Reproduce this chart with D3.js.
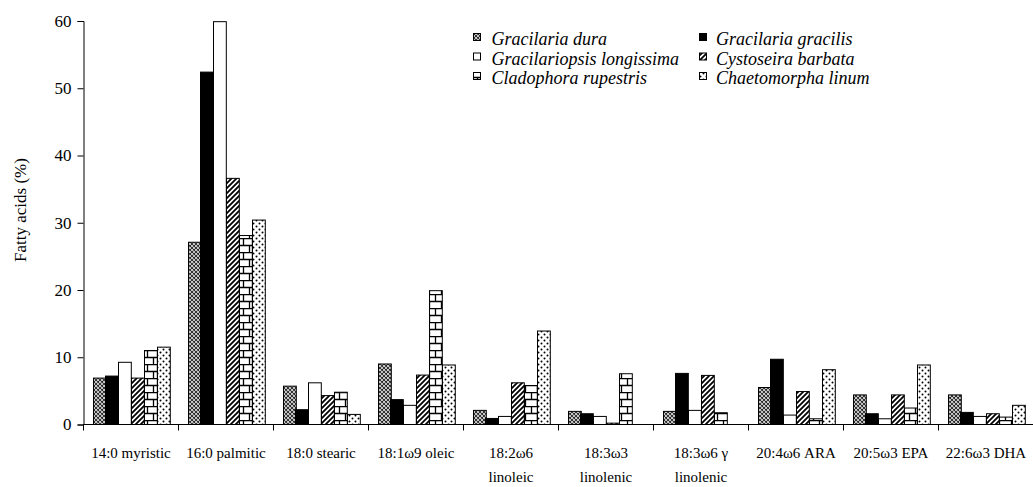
<!DOCTYPE html>
<html>
<head>
<meta charset="utf-8">
<script src="https://cdn.jsdelivr.net/npm/d3@7"></script>
<style>
  body { margin: 0; background: #fff; }
  svg { display: block; }
  text { font-family: "Liberation Serif", "Times New Roman", serif; fill: #000; }
</style>
</head>
<body>
<svg id="chart" width="1033" height="487"></svg>
<script>
// ---- data ----
const categories = [
  ["14:0 myristic"], ["16:0 palmitic"], ["18:0 stearic"], ["18:1\u03c99 oleic"],
  ["18:2\u03c96", "linoleic"], ["18:3\u03c93", "linolenic"], ["18:3\u03c96 \u03b3", "linolenic"],
  ["20:4\u03c96 ARA"], ["20:5\u03c93 EPA"], ["22:6\u03c93 DHA"]
];
const seriesNames = ["Gracilaria dura", "Gracilaria gracilis", "Gracilariopsis longissima",
  "Cystoseira barbata", "Cladophora rupestris", "Chaetomorpha linum"];
const gracilariaDura       = [6.9, 27.1, 5.7, 9.0, 2.1, 1.95, 1.95, 5.5, 4.4, 4.4];
const gracilariaGracilis   = [7.2, 52.4, 2.2, 3.7, 0.9, 1.6, 7.6, 9.7, 1.6, 1.8];
const gracilariopsisLong   = [9.25, 59.9, 6.2, 2.85, 1.2, 1.2, 2.1, 1.4, 0.85, 1.2];
const cystoseiraBarbata    = [6.9, 36.6, 4.3, 7.35, 6.2, 0.2, 7.3, 4.9, 4.4, 1.6];
const cladophoraRupestris  = [11.0, 28.1, 4.8, 19.9, 5.8, 7.55, 1.75, 0.85, 2.45, 1.1];
const chaetomorphaLinum    = [11.5, 30.4, 1.5, 8.85, 13.9, 0, 0, 8.15, 8.85, 2.85];
const yTicks = [0, 10, 20, 30, 40, 50, 60];
const seriesValues = [gracilariaDura, gracilariaGracilis, gracilariopsisLong,
  cystoseiraBarbata, cladophoraRupestris, chaetomorphaLinum];

// ---- layout ----
const svg = d3.select("#chart");
const x0 = 83.5, x1 = 1033.5, yBase = 424.5, yTop = 21;
const catKeys = categories.map((c, i) => i);
const x = d3.scaleBand().domain(catKeys).range([x0, x1]).paddingInner(0).paddingOuter(0);
const xs = d3.scaleBand().domain(d3.range(6)).range([0, x.bandwidth()]).paddingInner(0).paddingOuter(0.71);
const y = d3.scaleLinear().domain([0, 60]).range([yBase, yTop]);

// ---- patterns ----
const defs = svg.append("defs");
function pat(id, w, h, draw) {
  const p = defs.append("pattern").attr("id", id).attr("patternUnits", "userSpaceOnUse")
    .attr("width", w).attr("height", h);
  p.append("rect").attr("width", w).attr("height", h).attr("fill", "#fff");
  draw(p);
}
pat("p0", 4, 4, p => {
  p.append("path").attr("d", "M-1,-1 L5,5 M-1,3 L1,5 M3,-1 L5,1 M-1,5 L5,-1 M-1,1 L1,-1 M3,5 L5,3")
    .attr("stroke", "#2a2a2a").attr("stroke-width", 1.1);
});
pat("p3", 5, 5, p => {
  p.append("path").attr("d", "M-1,6 L6,-1 M-1,1 L1,-1 M4,6 L6,4").attr("stroke", "#000").attr("stroke-width", 1.8);
});
pat("p4", 12, 14, p => {
  p.append("path").attr("d", "M0,0.5 H12 M0,7.5 H12 M3.5,0 V7 M9.5,7 V14")
    .attr("stroke", "#000").attr("stroke-width", 1.3).attr("fill", "none");
});
pat("p5", 6, 6, p => {
  p.append("circle").attr("cx", 1.5).attr("cy", 1.5).attr("r", 1).attr("fill", "#000");
  p.append("circle").attr("cx", 4.5).attr("cy", 4.5).attr("r", 1).attr("fill", "#000");
});
const fills = ["url(#p0)", "#000", "#fff", "url(#p3)", "url(#p4)", "url(#p5)"];

// ---- bars ----
const g = svg.append("g");
seriesValues.forEach((vals, si) => {
  g.selectAll(null).data(vals).enter().append("rect")
    .attr("x", (d, i) => Math.round(x(i) + xs(si)) + 0.5)
    .attr("y", d => y(d))
    .attr("width", xs.bandwidth())
    .attr("height", d => Math.max(0, yBase - y(d)))
    .attr("fill", fills[si])
    .attr("stroke", "#000")
    .attr("stroke-width", 1);
});

// ---- axes ----
const yAxis = d3.axisLeft(y).tickValues(yTicks).tickSize(6).tickPadding(6);
const ya = svg.append("g").attr("transform", `translate(${x0},0)`).call(yAxis);
ya.attr("font-family", null);
ya.select(".domain").attr("stroke", "#000");
ya.selectAll(".tick line").attr("stroke", "#000");
ya.selectAll("text").style("font-size", "17px").style("font-family", "Liberation Serif");

const xa = svg.append("g").attr("transform", `translate(0,${yBase})`);
xa.append("line").attr("x1", x0).attr("x2", x1).attr("y1", 0).attr("y2", 0).attr("stroke", "#000");
xa.selectAll(".tk").data(catKeys.concat([categories.length])).enter().append("line")
  .attr("x1", d => d < categories.length ? x(d) : x1)
  .attr("x2", d => d < categories.length ? x(d) : x1)
  .attr("y1", 0).attr("y2", 6).attr("stroke", "#000");
const lbl = svg.append("g").selectAll("text").data(catKeys).enter().append("text")
  .attr("text-anchor", "middle").style("font-size", "15px");
lbl.each(function (d) {
  const t = d3.select(this);
  categories[d].forEach((line, li) => {
    t.append("tspan").attr("x", x(d) + x.bandwidth() / 2).attr("y", 458 + li * 24).text(line);
  });
});

// y title
svg.append("text").attr("transform", "translate(26,210) rotate(-90)")
  .attr("text-anchor", "middle").style("font-size", "17px").text("Fatty acids (%)");

// ---- legend ----
const legX = [473, 699], legY = [45, 64.5, 84];
seriesNames.forEach((name, i) => {
  const cx = legX[i % 2], by = legY[Math.floor(i / 2)];
  svg.append("rect").attr("x", cx + 0.5).attr("y", by - 11.5).attr("width", 7).attr("height", 7)
    .attr("fill", fills[i]).attr("stroke", "#000").attr("stroke-width", 1);
  svg.append("text").attr("x", cx + (i % 2 ? 17 : 18.5)).attr("y", by)
    .style("font-size", "18px").style("font-style", "italic").text(name);
});
</script>
</body>
</html>
